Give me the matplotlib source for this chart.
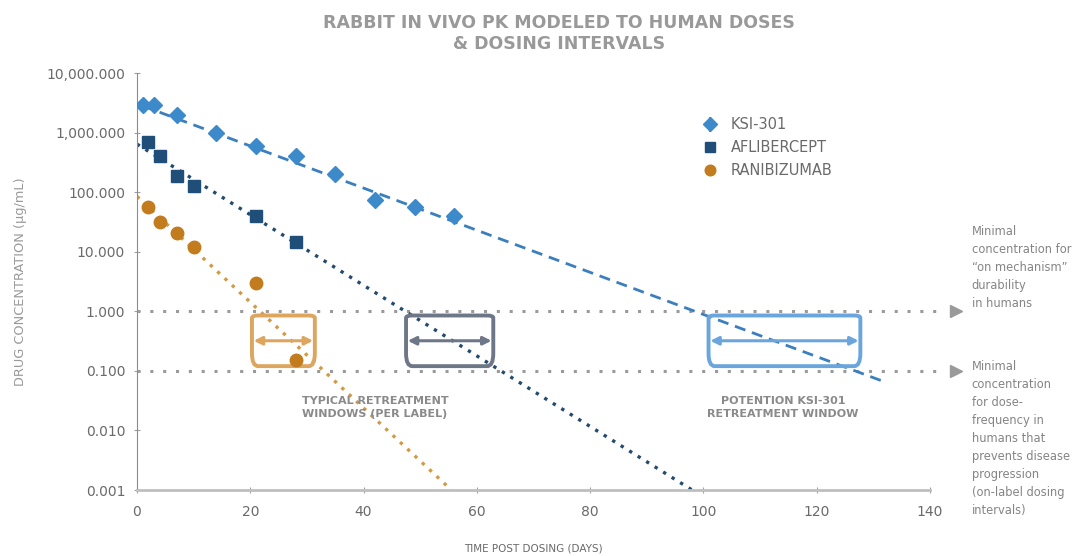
import matplotlib as mpl
mpl.use('Agg')

import numpy as np
import matplotlib.pyplot as plt
from matplotlib.patches import FancyBboxPatch
from matplotlib.ticker import FuncFormatter, FixedLocator

# measured points (days, ug/mL)
ksi_days = [1, 3, 7, 14, 21, 28, 35, 42, 49, 56]
ksi_conc = [2900, 2900, 2000, 1000, 600, 400, 200, 75, 57, 40]
ksi_err = [0, 0, 0, 0, 0, 0, 0, 15, 15, 0]

afl_days = [2, 4, 7, 10, 21, 28]
afl_conc = [700, 400, 190, 125, 40, 14.5]

ran_days = [2, 4, 7, 10, 21, 28]
ran_conc = [57, 31, 21, 12, 3.0, 0.15]

# modeled trend lines (start / end)
ksi_fit_days = [1, 131.5]
ksi_fit_conc = [2800, 0.068]
afl_fit_days = [0, 98]
afl_fit_conc = [640, 0.001]
ran_fit_days = [0, 55.5]
ran_fit_conc = [85, 0.001]

thresholds = [1.0, 0.1]

# retreatment windows: (start day, end day)
windows = [(20.3, 31.4), (47.5, 62.9), (100.9, 127.7)]
window_colors = ['#DDA55E', '#6E7787', '#6AA6DD']

grey = '#858585'
c_ksi = '#3D8ACB'
c_afl = '#1F4E79'
c_ran = '#C27C1E'

fig = plt.figure(figsize=(10.87, 5.56), dpi=100)
ax = fig.add_axes([0.126, 0.1187, 0.7296, 0.75])

ax.set_yscale('log')
ax.set_xlim(0, 140)
ax.set_ylim(0.001, 10000)

# threshold lines with arrow heads
for t in thresholds:
    ax.plot([0, 142], [t, t], linestyle=(0, (1, 3.2)), color='#9a9a9a', lw=2.2,
            clip_on=False, zorder=1)
    ax.plot([144.5], [t], marker='>', color='#9a9a9a', markersize=8, clip_on=False)

# trend lines
ax.plot(ksi_fit_days, ksi_fit_conc, linestyle=(0, (4, 2.5)), color='#3B7FBF', lw=2, zorder=2)
ax.plot(afl_fit_days, afl_fit_conc, linestyle=(0, (1, 2)), color='#244A6E', lw=2.4, zorder=2)
ax.plot(ran_fit_days, ran_fit_conc, linestyle=(0, (1, 2)), color='#D39A45', lw=2.4, zorder=2)

# windows
for (x0, x1), col in zip(windows, window_colors):
    box = FancyBboxPatch((x0, 0.12), x1 - x0, 0.85 - 0.12,
                         boxstyle='round,pad=0,rounding_size=1.1',
                         fill=False, edgecolor=col, lw=2.8, zorder=3,
                         mutation_aspect=0.07)
    ax.add_patch(box)
    ax.annotate('', xy=(x1 - 0.3, 0.32), xytext=(x0 + 0.3, 0.32),
                arrowprops=dict(arrowstyle='<|-|>', color=col, lw=2.2,
                                mutation_scale=12, shrinkA=0, shrinkB=0), zorder=3)

# data points
h_ksi = ax.errorbar(ksi_days, ksi_conc, yerr=ksi_err, fmt='D', color=c_ksi, markersize=8,
                    ecolor=c_ksi, elinewidth=1.5, capsize=0, zorder=4)
h_afl, = ax.plot(afl_days, afl_conc, 's', color=c_afl, markersize=9, zorder=4)
h_ran, = ax.plot(ran_days, ran_conc, 'o', color=c_ran, markersize=9, zorder=4)

ax.text(42, 0.024, 'TYPICAL RETREATMENT\nWINDOWS (PER LABEL)', ha='center', va='center',
        fontsize=8, fontweight='bold', color='#8a8a8a', linespacing=1.4)
ax.text(114, 0.024, 'POTENTION KSI-301\nRETREATMENT WINDOW', ha='center', va='center',
        fontsize=8, fontweight='bold', color='#8a8a8a', linespacing=1.4)

# right side notes
fig.text(0.894, 0.595, 'Minimal\nconcentration for\n\u201con mechanism\u201d\ndurability\nin humans',
         ha='left', va='top', fontsize=8.3, color=grey, linespacing=1.5)
fig.text(0.894, 0.352, 'Minimal\nconcentration\nfor dose-\nfrequency in\nhumans that\n'
         'prevents disease\nprogression\n(on-label dosing\nintervals)',
         ha='left', va='top', fontsize=8.3, color=grey, linespacing=1.5)

# axes styling
for s in ['top', 'right']:
    ax.spines[s].set_visible(False)
ax.spines['left'].set_color('#8c8c8c')
ax.spines['bottom'].set_color('#bfbfbf')
ax.spines['bottom'].set_linewidth(2)
ax.yaxis.set_major_locator(FixedLocator([0.001, 0.01, 0.1, 1, 10, 100, 1000, 10000]))
ax.yaxis.set_minor_locator(FixedLocator([]))
ax.yaxis.set_major_formatter(FuncFormatter(lambda v, p: f'{v:,.3f}'))
ax.set_xticks(range(0, 141, 20))
ax.tick_params(axis='both', direction='inout', length=5, color='#a0a0a0',
               labelsize=10, labelcolor='#6a6a6a')
ax.tick_params(axis='x', pad=8)
ax.tick_params(axis='y', pad=6)

ax.set_ylabel('DRUG CONCENTRATION (\u03bcg/mL)', fontsize=9.3, color='#9a9a9a', labelpad=14)
ax.set_xlabel('TIME POST DOSING (DAYS)', fontsize=7.5, color='#6a6a6a', labelpad=18)

fig.suptitle('RABBIT IN VIVO PK MODELED TO HUMAN DOSES\n& DOSING INTERVALS',
             x=0.514, y=0.975, fontsize=12.5, fontweight='bold', color='#999999',
             linespacing=1.25)

leg = ax.legend([h_ksi, h_afl, h_ran], ['KSI-301', 'AFLIBERCEPT', 'RANIBIZUMAB'],
                loc='upper left', bbox_to_anchor=(0.688, 0.925), frameon=False,
                fontsize=10.5, handletextpad=0.4, labelspacing=0.55, markerscale=0.85)
for txt in leg.get_texts():
    txt.set_color('#6a6a6a')

fig.savefig('out.png', dpi=100)
